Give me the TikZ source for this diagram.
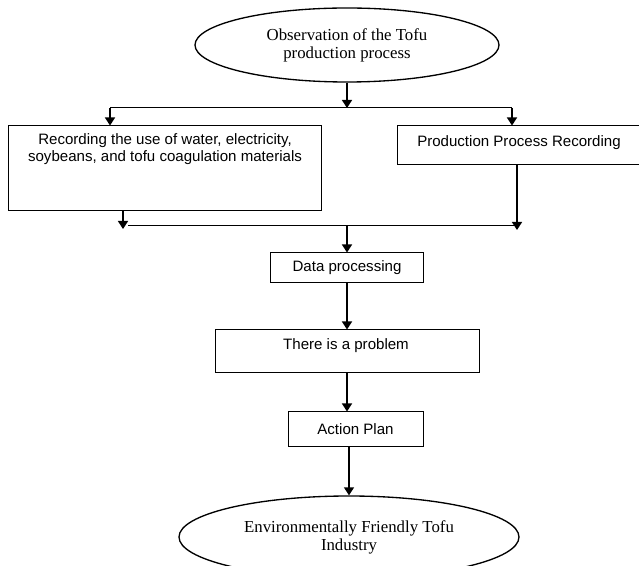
\documentclass[tikz,border=0pt]{standalone}
\usepackage{fontspec}
\setmainfont{Liberation Serif}
\newfontfamily\arialfont{Liberation Sans}
\usetikzlibrary{shapes.geometric,arrows.meta}
\tikzset{every picture/.style={line width=0.75pt}}
\tikzset{
  oval/.style={draw,ellipse,line width=1pt,inner sep=0pt,align=center,font=\fontsize{12.6}{13.5}\selectfont},
  box/.style={draw,rectangle,inner sep=0pt,align=center,font=\arialfont\fontsize{11.3}{12.75}\selectfont},
  boxtext/.style={inner sep=0pt,align=center,font=\arialfont\fontsize{11.3}{12.75}\selectfont},
  flow/.style={line width=1pt,-{Triangle[length=6pt,width=7.5pt]}},
  bus/.style={line width=0.75pt}
}

\begin{document}
\begin{tikzpicture}[x=0.75pt,y=0.75pt,yscale=-1,xscale=1]
\clip (0,0) rectangle (639,566);

%Shape: Ellipse
\node[oval,minimum width=228pt,minimum height=55.5pt] (obs) at (347,45) {Observation of the Tofu\\production process};
%Shape: Rectangle
\node[box,minimum width=234.75pt,minimum height=63.75pt] (rec) at (164.5,168.5) {};
%Shape: Rectangle
\node[box,minimum width=186pt,minimum height=29.25pt] (prr) at (521,145.5) {};
%Shape: Rectangle
\node[box,minimum width=114.75pt,minimum height=22.5pt] (dat) at (347,268) {Data processing};
%Shape: Rectangle
\node[box,minimum width=198pt,minimum height=32.25pt] (prob) at (347,351.5) {};
%Shape: Rectangle
\node[box,minimum width=101.25pt,minimum height=26.25pt] (act) at (355.5,429.5) {Action Plan};
%Shape: Ellipse
\node[oval,minimum width=255pt,minimum height=61.5pt] (ind) at (349,537) {Environmentally Friendly Tofu\\Industry};

% Text Node
\node[boxtext,anchor=north] (rectxt) at (165,133) {Recording the use of water, electricity,\\soybeans, and tofu coagulation materials};
% Text Node
\node[boxtext,anchor=base] (prrtxt) at (519,146.5) {Production Process Recording};
% Text Node
\node[boxtext,anchor=north] (probtxt) at (346,338.5) {There is a problem};

%Straight Lines
\coordinate (tbl) at (110,108);
\coordinate (tbr) at (512,108);
\draw[flow] (obs.south) -- (obs.south |- tbl);
\draw[bus] (tbl) -- (tbr);
\draw[flow] (tbl) -- (tbl |- rec.north);
\draw[flow] (tbr) -- (tbr |- prr.north);

%Straight Lines
\coordinate (bbl) at (128,226);
\coordinate (bbr) at (517,226);
\coordinate (ltip) at (123,229);
\coordinate (rtip) at (517,230);
\coordinate (bmid) at (347,226);
\draw[bus] (bbl) -- (bbr);
\draw[flow] (rec.south -| ltip) -- (ltip);
\draw[flow] (prr.south -| rtip) -- (rtip);
\draw[flow] (bmid) -- (bmid |- dat.north);

%Straight Lines
\draw[flow] (dat.south) -- (prob.north);
\draw[flow] (prob.south) -- (prob.south |- act.north);
\draw[flow] (act.south -| ind.north) -- (ind.north);

\end{tikzpicture}
\end{document}
